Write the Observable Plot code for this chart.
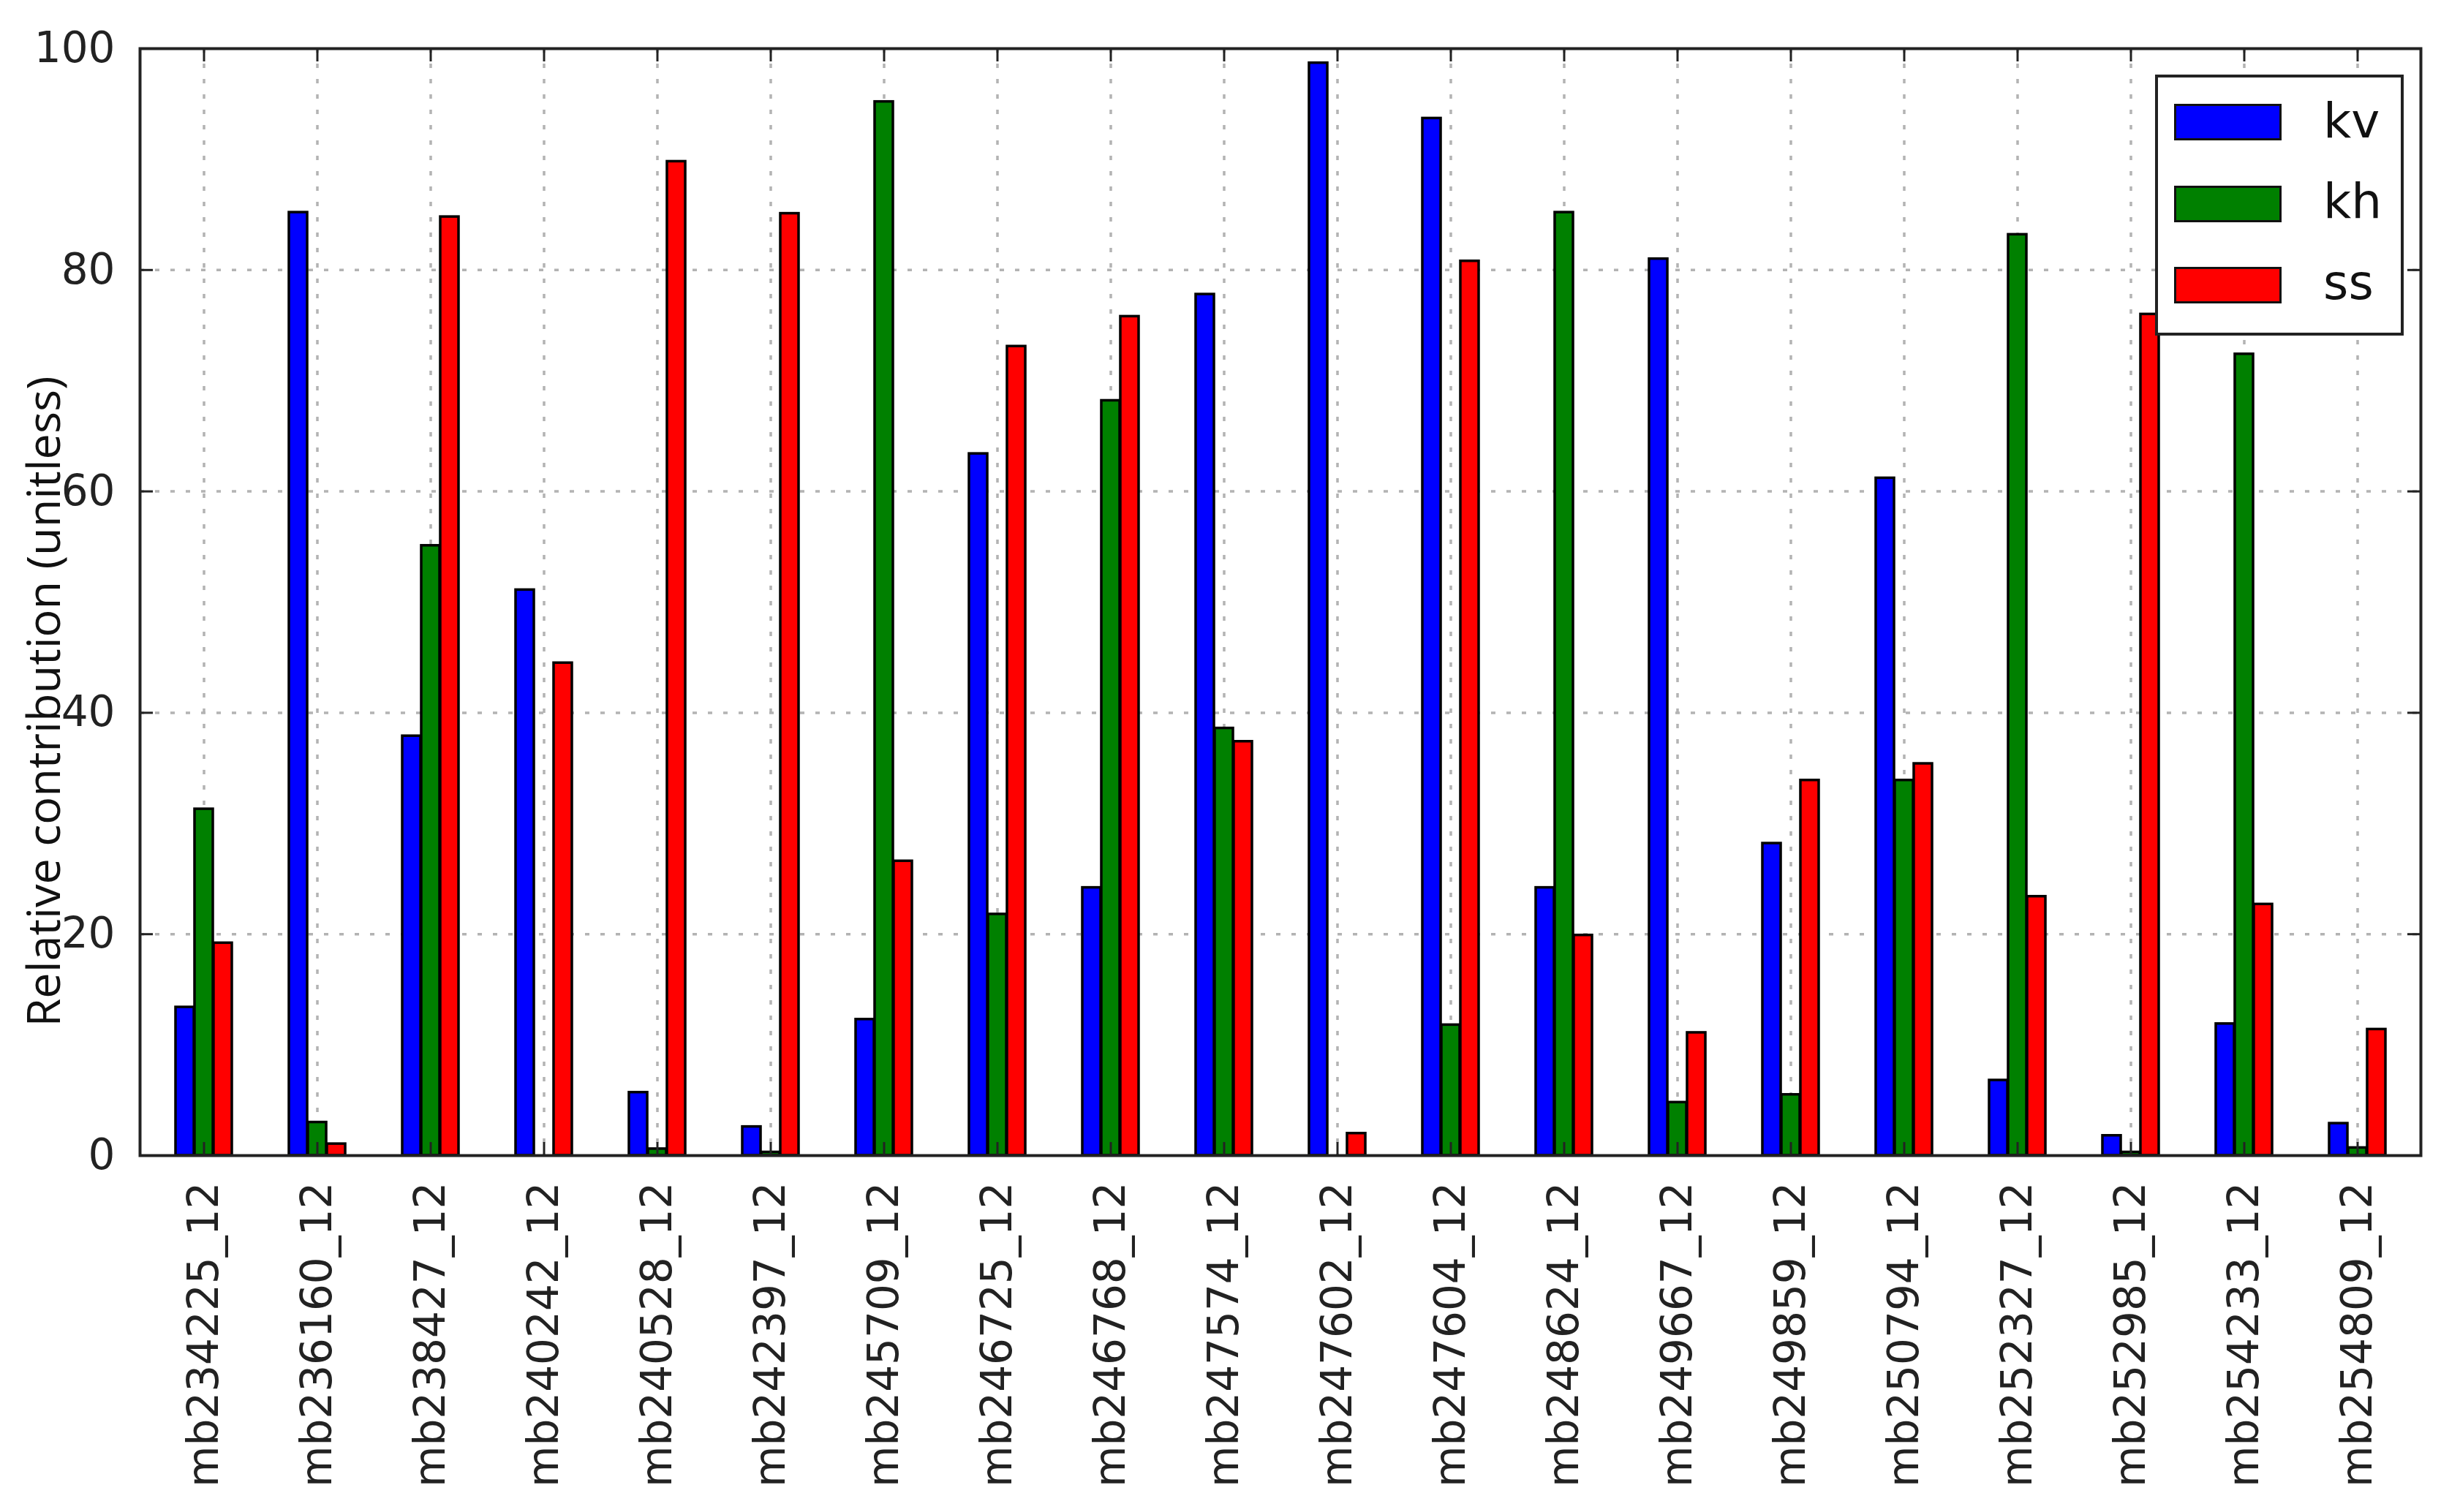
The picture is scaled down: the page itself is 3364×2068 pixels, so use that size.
<!DOCTYPE html>
<html><head><meta charset="utf-8">
<script src="https://cdn.jsdelivr.net/npm/d3@7"></script>
<script src="https://cdn.jsdelivr.net/npm/@observablehq/plot@0.6"></script>
<style>
html,body{margin:0;padding:0;background:#fff;}
#wrap{position:relative;width:3364px;height:2068px;overflow:hidden;}
#legend{position:absolute;left:2947px;top:102px;width:332px;height:349px;border:4px solid #222;background:#fff;font-family:"DejaVu Sans";color:#111;}
.sw{position:absolute;left:22px;width:141px;height:44px;border:3px solid #111;}
.lab{position:absolute;left:226px;font-size:66px;line-height:1;}
</style></head><body><div id="wrap"></div>
<script>
const categories = ["mb234225_12","mb236160_12","mb238427_12","mb240242_12","mb240528_12","mb242397_12","mb245709_12","mb246725_12","mb246768_12","mb247574_12","mb247602_12","mb247604_12","mb248624_12","mb249667_12","mb249859_12","mb250794_12","mb252327_12","mb252985_12","mb254233_12","mb254809_12"];
const kv = [13.4, 85.2, 37.9, 51.1, 5.7, 2.6, 12.3, 63.4, 24.2, 77.8, 98.7, 93.7, 24.2, 81.0, 28.2, 61.2, 6.8, 1.8, 11.9, 2.9];
const kh = [31.3, 3.0, 55.1, 0, 0.6, 0.3, 95.2, 21.8, 68.2, 38.6, 0, 11.8, 85.2, 4.8, 5.5, 33.9, 83.2, 0.3, 72.4, 0.7];
const ss = [19.2, 1.05, 84.8, 44.5, 89.8, 85.1, 26.6, 73.1, 75.8, 37.4, 2.0, 80.8, 19.9, 11.1, 33.9, 35.4, 23.4, 76.0, 22.7, 11.4];
const seriesNames = ["kv", "kh", "ss"];
const seriesColors = ["#0000ff", "#008000", "#ff0000"];
const yTicks = [0, 20, 40, 60, 80, 100];
const yLabel = "Relative contribution (unitless)";

const W = 3364, H = 2068, mL = 191, mR = 54, mT = 66, mB = 488;
const plotW = W - mL - mR, plotH = H - mT - mB;
const bw = plotW / categories.length;
const barW = bw / 6;

const rows = [];
[kv, kh, ss].forEach((vals, s) => vals.forEach((v, i) => rows.push({category: categories[i], series: seriesNames[s], value: v})));

const barMarks = seriesNames.map((name, s) => Plot.barY(rows.filter(r => r.series === name), {
  x: "category", y: "value", fill: seriesColors[s], stroke: "#000", strokeWidth: 3.5,
  insetLeft: (bw - barW) / 2, insetRight: (bw - barW) / 2, dx: (s - 1) * barW
}));

const gridStyle = {stroke: "#b3b3b3", strokeOpacity: 1, strokeWidth: 3.5, strokeDasharray: "6,15"};
const tickStyle = {stroke: "#222", strokeWidth: 3};

const chart = Plot.plot({
  width: W, height: H, marginLeft: mL, marginRight: mR, marginTop: mT, marginBottom: mB,
  style: {fontFamily: "DejaVu Sans", fontSize: "58px", color: "#222", background: "#fff"},
  x: {type: "band", domain: categories, padding: 0},
  y: {domain: [0, 100]},
  marks: [
    Plot.gridX(categories, gridStyle),
    Plot.gridY([20, 40, 60, 80], gridStyle),
    ...barMarks,
    Plot.tickY(yTicks, {y: d => d, insetRight: plotW - 18, ...tickStyle}),
    Plot.tickY(yTicks, {y: d => d, insetLeft: plotW - 18, ...tickStyle}),
    Plot.tickX(categories, {x: d => d, insetTop: plotH - 18, ...tickStyle}),
    Plot.tickX(categories, {x: d => d, insetBottom: plotH - 18, ...tickStyle}),
    Plot.frame({stroke: "#222", strokeWidth: 4}),
    Plot.axisY(yTicks, {tickSize: 0, tickPadding: 34, fontSize: 58, label: null}),
    Plot.axisX({tickSize: 0, tickPadding: 36, tickRotate: -90, fontSize: 58, label: null}),
    Plot.text([yLabel], {frameAnchor: "left", textAnchor: "middle", text: d => d, rotate: -90, dx: -130, dy: 136, fontSize: 63, fontFamily: "Open Sans", fill: "#111"})
  ]
});
const wrap = document.getElementById("wrap");
wrap.appendChild(chart);

const legend = document.createElement("div");
legend.id = "legend";
const swTops = [36, 148, 259];
const labTops = [27, 137, 248];
seriesNames.forEach((name, s) => {
  const sw = document.createElement("div");
  sw.className = "sw";
  sw.style.top = swTops[s] + "px";
  sw.style.background = seriesColors[s];
  legend.appendChild(sw);
  const lab = document.createElement("div");
  lab.className = "lab";
  lab.style.top = labTops[s] + "px";
  lab.textContent = name;
  legend.appendChild(lab);
});
wrap.appendChild(legend);
</script></body></html>
